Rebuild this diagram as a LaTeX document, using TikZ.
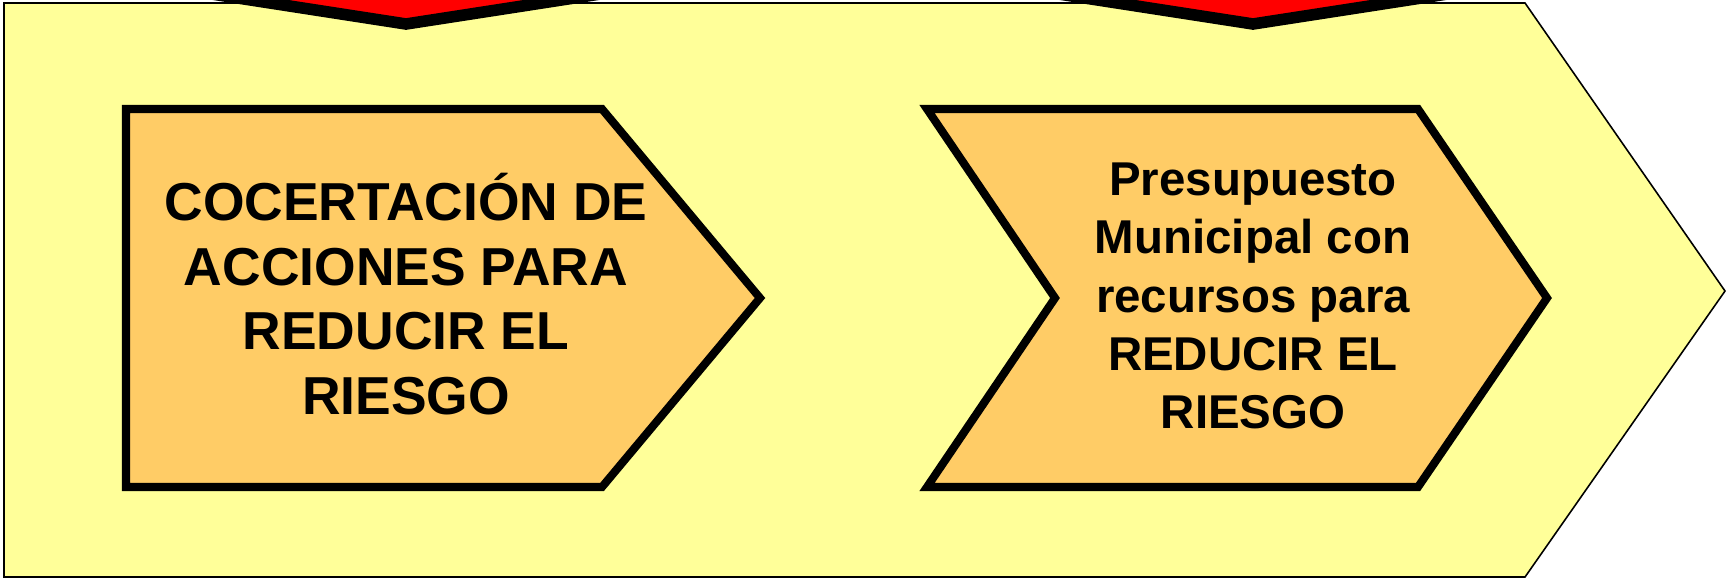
\documentclass[tikz,border=0pt]{standalone}
\usepackage{fontspec}
\setmainfont{Liberation Sans}
\definecolor{amarillo}{HTML}{FFFF99}
\definecolor{naranja}{HTML}{FFCC66}
\definecolor{rojo}{HTML}{FF0000}
\begin{document}
\begin{tikzpicture}[
	bloque/.style={fill=naranja, draw=black, line width=2.3pt, line join=miter},
	texto/.style={align=center, inner sep=0pt}]
	\useasboundingbox (0,0) rectangle (17.27,5.79);
	\clip (0,0) rectangle (17.27,5.79);

	\draw [fill=amarillo, line width=0.45pt] (0.04,5.76) -- (15.25,5.76) -- (17.25,2.88) -- (15.25,0.02) -- (0.04,0.02) -- cycle;%Flecha grande
	\draw [fill=rojo, line width=3.3pt, line join=miter] (1.86,5.89) -- (4.06,5.55) -- (6.26,5.89) -- (6.26,6.6) -- (1.86,6.6) -- cycle;%rojo izquierda
	\draw [fill=rojo, line width=3.3pt, line join=miter] (10.33,5.89) -- (12.53,5.55) -- (14.73,5.89) -- (14.73,6.6) -- (10.33,6.6) -- cycle;%rojo derecha

	\draw [bloque] (1.26,4.70) -- (6.02,4.70) -- (7.60,2.81) -- (6.02,0.92) -- (1.26,0.92) -- cycle;%bloque izquierdo
	\draw [bloque] (9.27,4.70) -- (14.18,4.70) -- (15.47,2.81) -- (14.18,0.92) -- (9.27,0.92) -- (10.55,2.81) -- cycle;%bloque derecho

	\node[texto, font=\fontsize{15.2}{18.4}\selectfont\bfseries] (concertacion) at (4.06,2.85) {COCERTACIÓN DE\\ACCIONES PARA\\REDUCIR EL\\RIESGO};
	\node[texto, font=\fontsize{13.5}{16.6}\selectfont\bfseries] (presupuesto) at (12.53,2.83) {Presupuesto\\Municipal con\\recursos para\\REDUCIR EL\\RIESGO};

\end{tikzpicture}
\end{document}
